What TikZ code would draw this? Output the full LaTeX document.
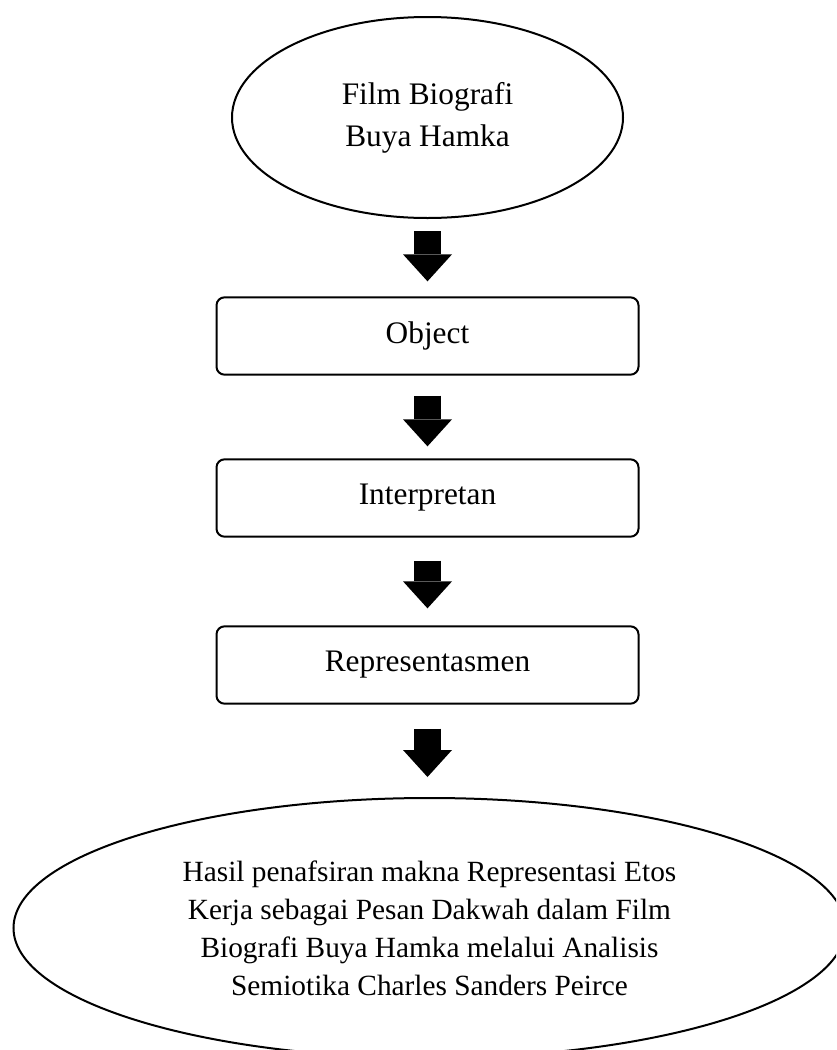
\documentclass[tikz,border=0pt]{standalone}
\usepackage{fontspec}
\setmainfont{Liberation Serif}
\usetikzlibrary{shapes.geometric,arrows.meta}
\tikzset{
  ell/.style={ellipse, draw, line width=1.5pt, align=center, inner sep=0pt},
  stepbox/.style={rectangle, draw, rounded corners=6pt, line width=1.5pt,
    minimum width=316.5pt, minimum height=58pt, inner sep=0pt,
    font=\fontsize{23.5}{28}\selectfont},
  barrow/.style={line width=20.25pt, line cap=butt,
    -{Triangle[length=20.25pt,width=36.75pt,line width=0pt]}}
}
\begin{document}
\begin{tikzpicture}[x=0.75pt,y=-0.75pt]
\useasboundingbox (0,0) rectangle (836,1050);
\clip (0,0) rectangle (836,1050);
\node[ell, minimum width=293.25pt, minimum height=150.75pt,
  font=\fontsize{23.5}{31.5}\selectfont] (film) at (427.5,117.5) {Film Biografi\\Buya Hamka};
\node[stepbox] (obj) at (427.5,336) {\raisebox{2pt}{Object}};
\node[stepbox] (int) at (427.5,498) {\raisebox{2pt}{Interpretan}};
\node[stepbox] (rep) at (427.5,665) {\raisebox{2pt}{Representasmen}};
\node[ell, minimum width=624pt, minimum height=195pt,
  font=\fontsize{22}{28.5}\selectfont] (hasil) at (429.5,928)
  {Hasil penafsiran makna Representasi Etos\\Kerja sebagai Pesan Dakwah dalam Film\\Biografi Buya Hamka melalui Analisis\\Semiotika Charles Sanders Peirce};
\draw[barrow, shorten <=9pt, shorten >=11.25pt] (film.south) -- (obj.north);
\draw[barrow, shorten <=15pt, shorten >=9pt] (obj.south) -- (int.north);
\draw[barrow, shorten <=17.25pt, shorten >=12.75pt] (int.south) -- (rep.north);
\draw[barrow, shorten <=18pt, shorten >=15pt] (rep.south) -- (rep.south |- hasil.north);
\end{tikzpicture}
\end{document}
